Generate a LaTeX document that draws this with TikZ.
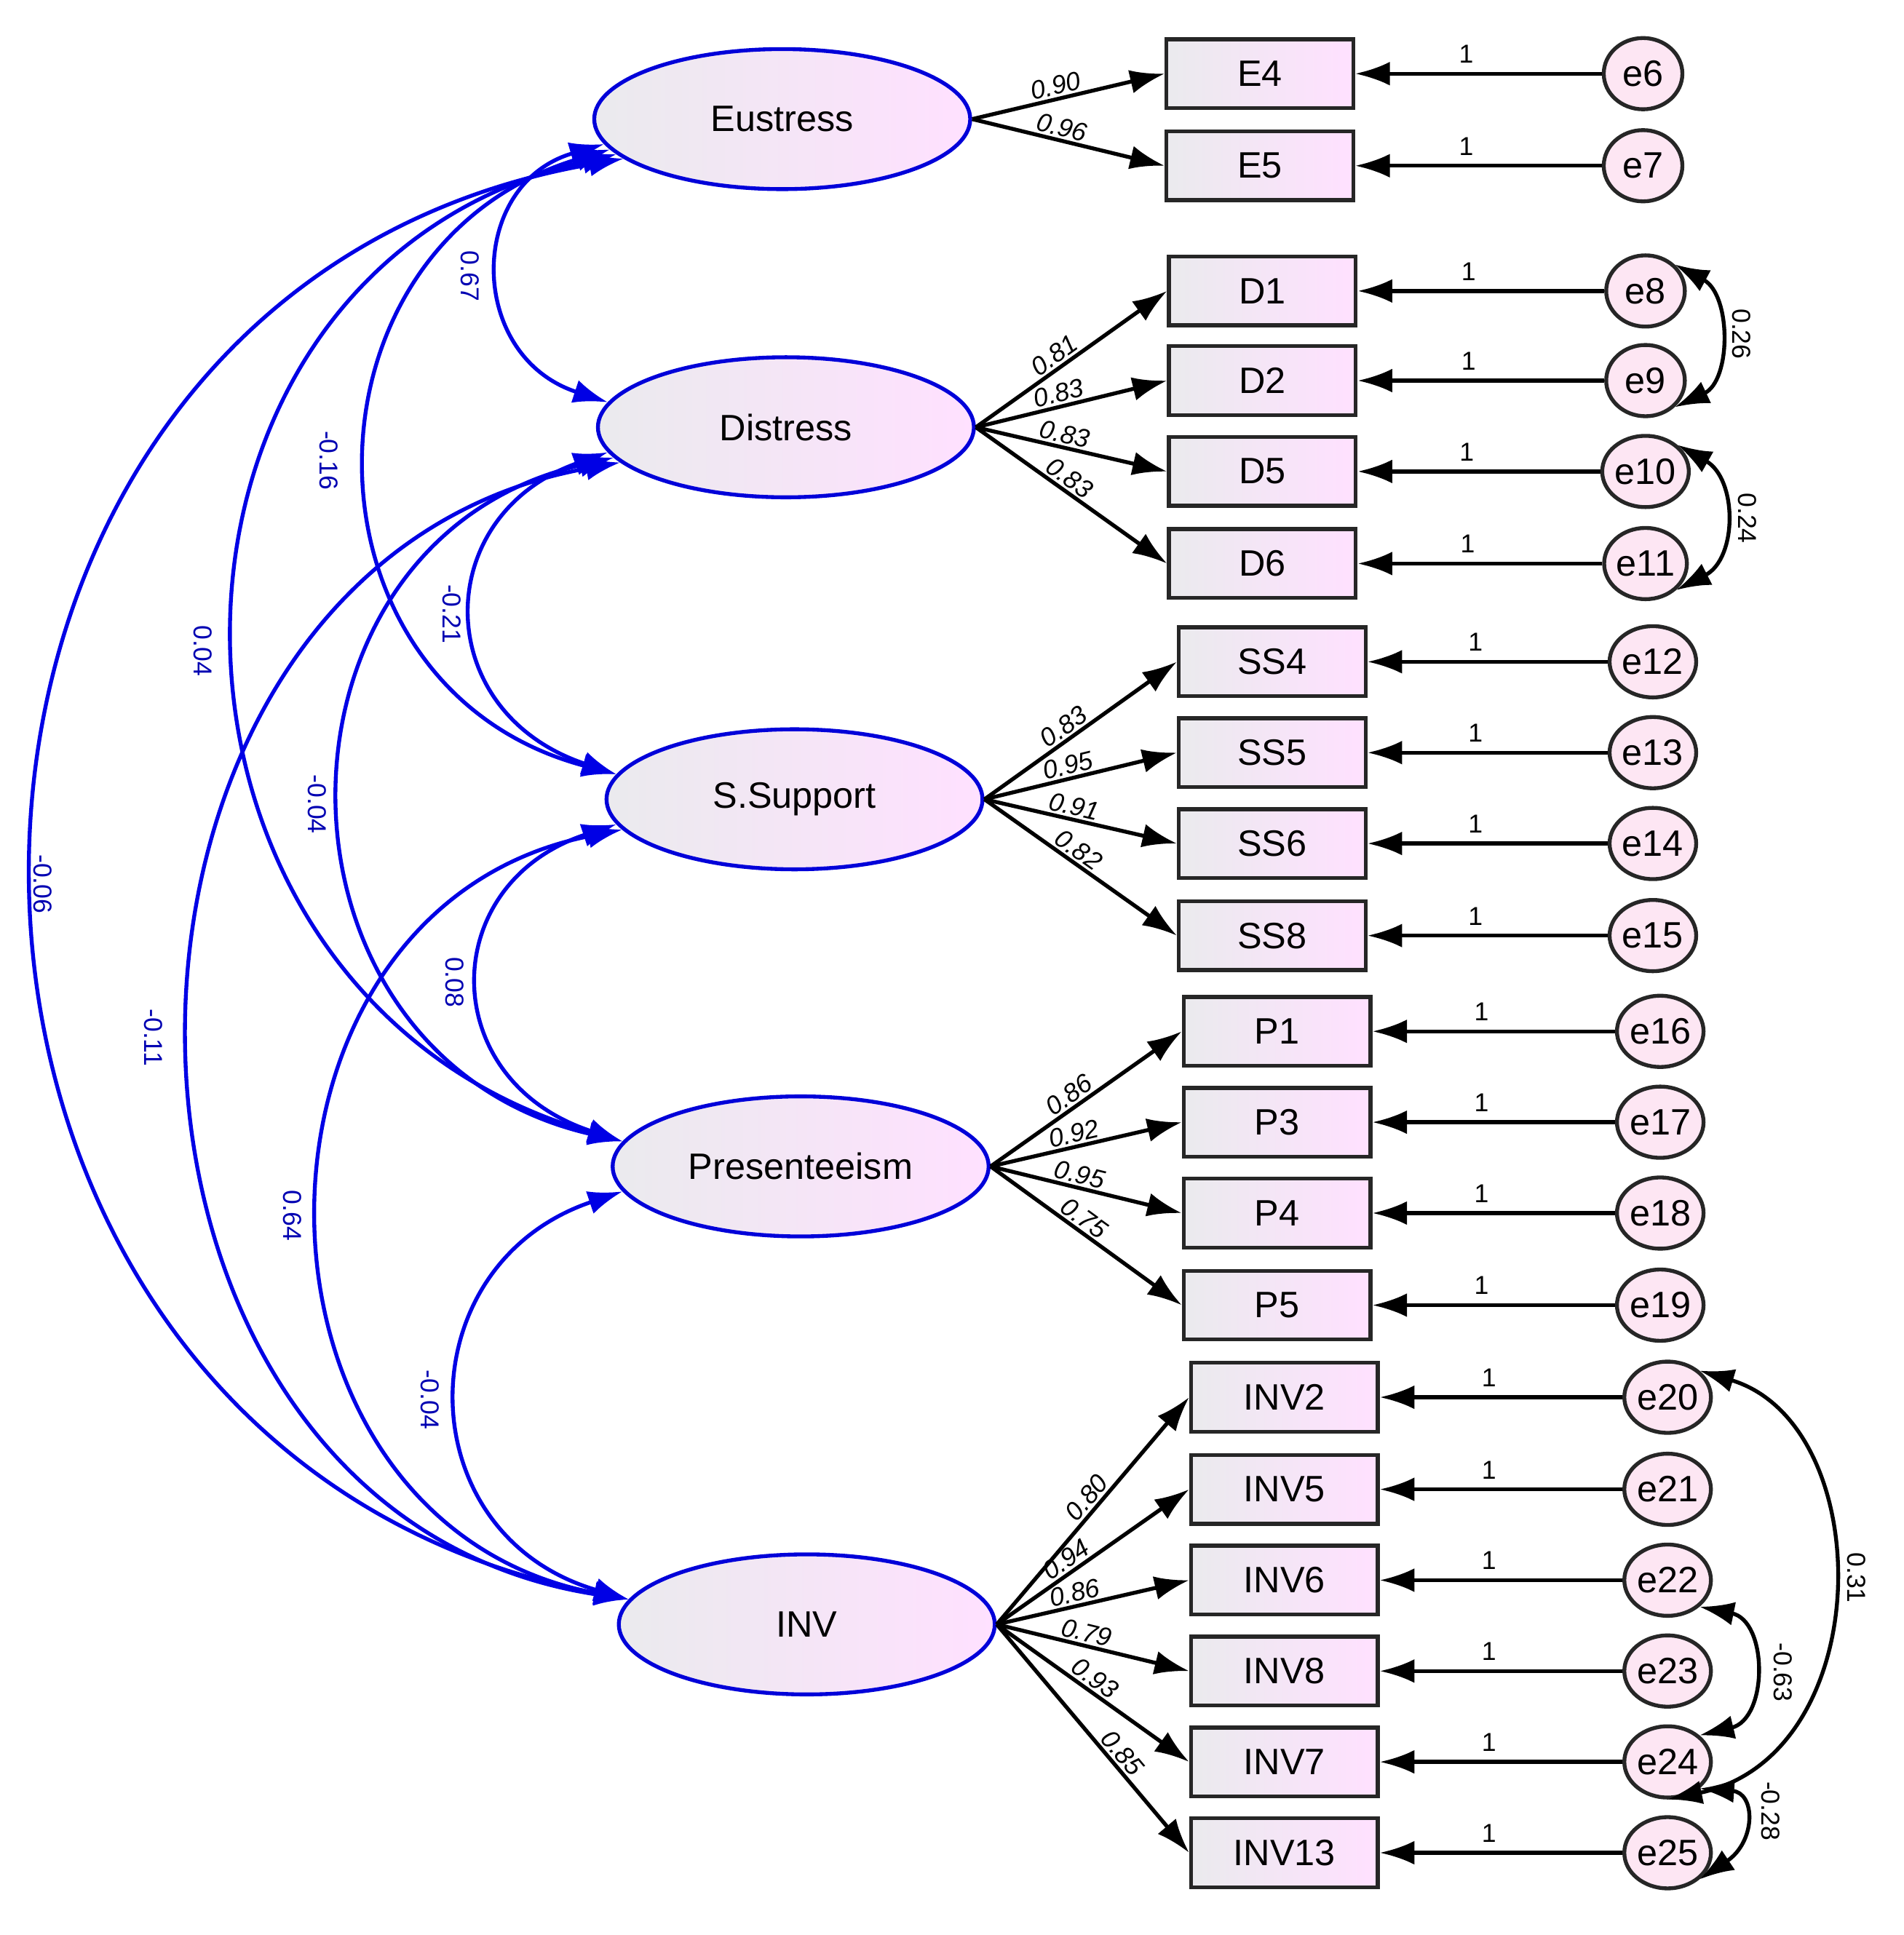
\documentclass[tikz,border=0pt]{standalone}
\usepackage{fontspec}
\setmainfont{Liberation Sans}
\usetikzlibrary{shapes.geometric,arrows.meta}
\begin{document}
\begin{tikzpicture}[x=0.01cm,y=-0.01cm,
 lat/.style={ellipse,draw=blue!85!black,line width=0.9pt,left color=blue!8!gray!15,right color=magenta!12,minimum width=3.06cm,minimum height=1.14cm,inner sep=0pt,font=\fontsize{8.5}{10}\selectfont},
 obs/.style={rectangle,draw=black!85,line width=0.9pt,left color=blue!8!gray!15,right color=magenta!12,minimum width=1.52cm,minimum height=0.56cm,inner sep=0pt,font=\fontsize{8.5}{10}\selectfont},
 err/.style={ellipse,draw=black!85,line width=0.9pt,fill=magenta!10,minimum width=0.64cm,minimum height=0.58cm,inner sep=0pt,font=\fontsize{8.5}{10}\selectfont},
 ld/.style={-{Latex[length=8pt,width=5.5pt]},line width=0.9pt},
 cv/.style={{Latex[length=8pt,width=5.5pt]}-{Latex[length=8pt,width=5.5pt]},line width=0.9pt,draw=blue!90!black},
 ecv/.style={{Latex[length=8pt,width=5.5pt]}-{Latex[length=8pt,width=5.5pt]},line width=0.9pt},
 lb/.style={font=\fontsize{6}{7}\selectfont,sloped,above,inner sep=0.5pt},
 cl/.style={font=\fontsize{6}{7}\selectfont,text=blue!70!black,rotate=-90},
 el/.style={font=\fontsize{6}{7}\selectfont,rotate=-90}]
\useasboundingbox (0,0) rectangle (1550,1576);
\node[lat] (eu) at (637,97) {Eustress};
\node[lat] (di) at (640,348) {Distress};
\node[lat] (ss) at (647,651) {S.Support};
\node[lat] (pr) at (652,950) {Presenteeism};
\node[lat] (in) at (657,1323) {INV};
% observed + errors
\foreach \n/\x/\y/\ex/\en in {E4/1026/60/1338/e6,E5/1026/135/1338/e7,D1/1028/237/1340/e8,D2/1028/310/1340/e9,D5/1028/384/1340/e10,D6/1028/459/1340/e11,SS4/1036/539/1346/e12,SS5/1036/613/1346/e13,SS6/1036/687/1346/e14,SS8/1036/762/1346/e15,P1/1040/840/1352/e16,P3/1040/914/1352/e17,P4/1040/988/1352/e18,P5/1040/1063/1352/e19,INV2/1046/1138/1358/e20,INV5/1046/1213/1358/e21,INV6/1046/1287/1358/e22,INV8/1046/1361/1358/e23,INV7/1046/1435/1358/e24,INV13/1046/1509/1358/e25}{
 \node[obs] (\n) at (\x,\y) {\n};
 \node[err] (\en) at (\ex,\y) {\en};
 \draw[ld] (\en) -- node[pos=0.55,above,font=\fontsize{6}{7}\selectfont,inner sep=2pt]{1} (\n);
}
% loadings
\foreach \s/\t/\v/\p in {eu/E4/0.90/0.45,eu/E5/0.96/0.45,di/D1/0.81/0.45,di/D2/0.83/0.45,di/D5/0.83/0.45,di/D6/0.83/0.45,ss/SS4/0.83/0.45,ss/SS5/0.95/0.45,ss/SS6/0.91/0.45,ss/SS8/0.82/0.45,pr/P1/0.86/0.45,pr/P3/0.92/0.45,pr/P4/0.95/0.45,pr/P5/0.75/0.45,in/INV2/0.80/0.52,in/INV5/0.94/0.4,in/INV6/0.86/0.42,in/INV8/0.79/0.45,in/INV7/0.93/0.47,in/INV13/0.85/0.6}{
 \draw[ld] (\s.east) -- node[lb,pos=\p]{\textit{\v}} (\t.west);
}
% latent covariances
\draw[cv] (eu.188) .. controls (380,150) and (380,290) .. (di.172);
\node[cl] at (383,225) {0.67};
\draw[cv] (eu.190) .. controls (235,200) and (235,560) .. (ss.172);
\node[cl] at (268,375) {-0.16};
\draw[cv] (eu.192) .. controls (90,220) and (90,810) .. (pr.172);
\node[cl] at (165,530) {0.04};
\draw[cv] (eu.194) .. controls (-130,240) and (-130,1180) .. (in.172);
\node[cl] at (35,720) {-0.06};
\draw[cv] (di.188) .. controls (350,420) and (350,580) .. (ss.172);
\node[cl] at (368,500) {-0.21};
\draw[cv] (di.190) .. controls (205,440) and (205,860) .. (pr.172);
\node[cl] at (258,655) {-0.04};
\draw[cv] (di.192) .. controls (40,460) and (40,1230) .. (in.172);
\node[cl] at (125,845) {-0.11};
\draw[cv] (ss.188) .. controls (355,720) and (355,880) .. (pr.172);
\node[cl] at (370,800) {0.08};
\draw[cv] (ss.190) .. controls (180,740) and (180,1240) .. (in.172);
\node[cl] at (238,990) {0.64};
\draw[cv] (pr.188) .. controls (330,1030) and (330,1250) .. (in.172);
\node[cl] at (350,1140) {-0.04};
% error covariances
\draw[ecv] (e8.north east) .. controls (1410,240) and (1410,310) .. (e9.south east);
\node[el] at (1418,272) {0.26};
\draw[ecv] (e10.north east) .. controls (1415,390) and (1415,455) .. (e11.south east);
\node[el] at (1423,422) {0.24};
\draw[ecv] (e20.north east) .. controls (1530,1160) and (1530,1430) .. (e24.south);
\node[el] at (1512,1285) {0.31};
\draw[ecv] (e22.south east) .. controls (1440,1320) and (1440,1400) .. (e24.north east);
\node[el] at (1452,1362) {-0.63};
\draw[ecv] (e24.south east) .. controls (1430,1460) and (1430,1500) .. (e25.south east);
\node[el] at (1442,1475) {-0.28};
\end{tikzpicture}
\end{document}
